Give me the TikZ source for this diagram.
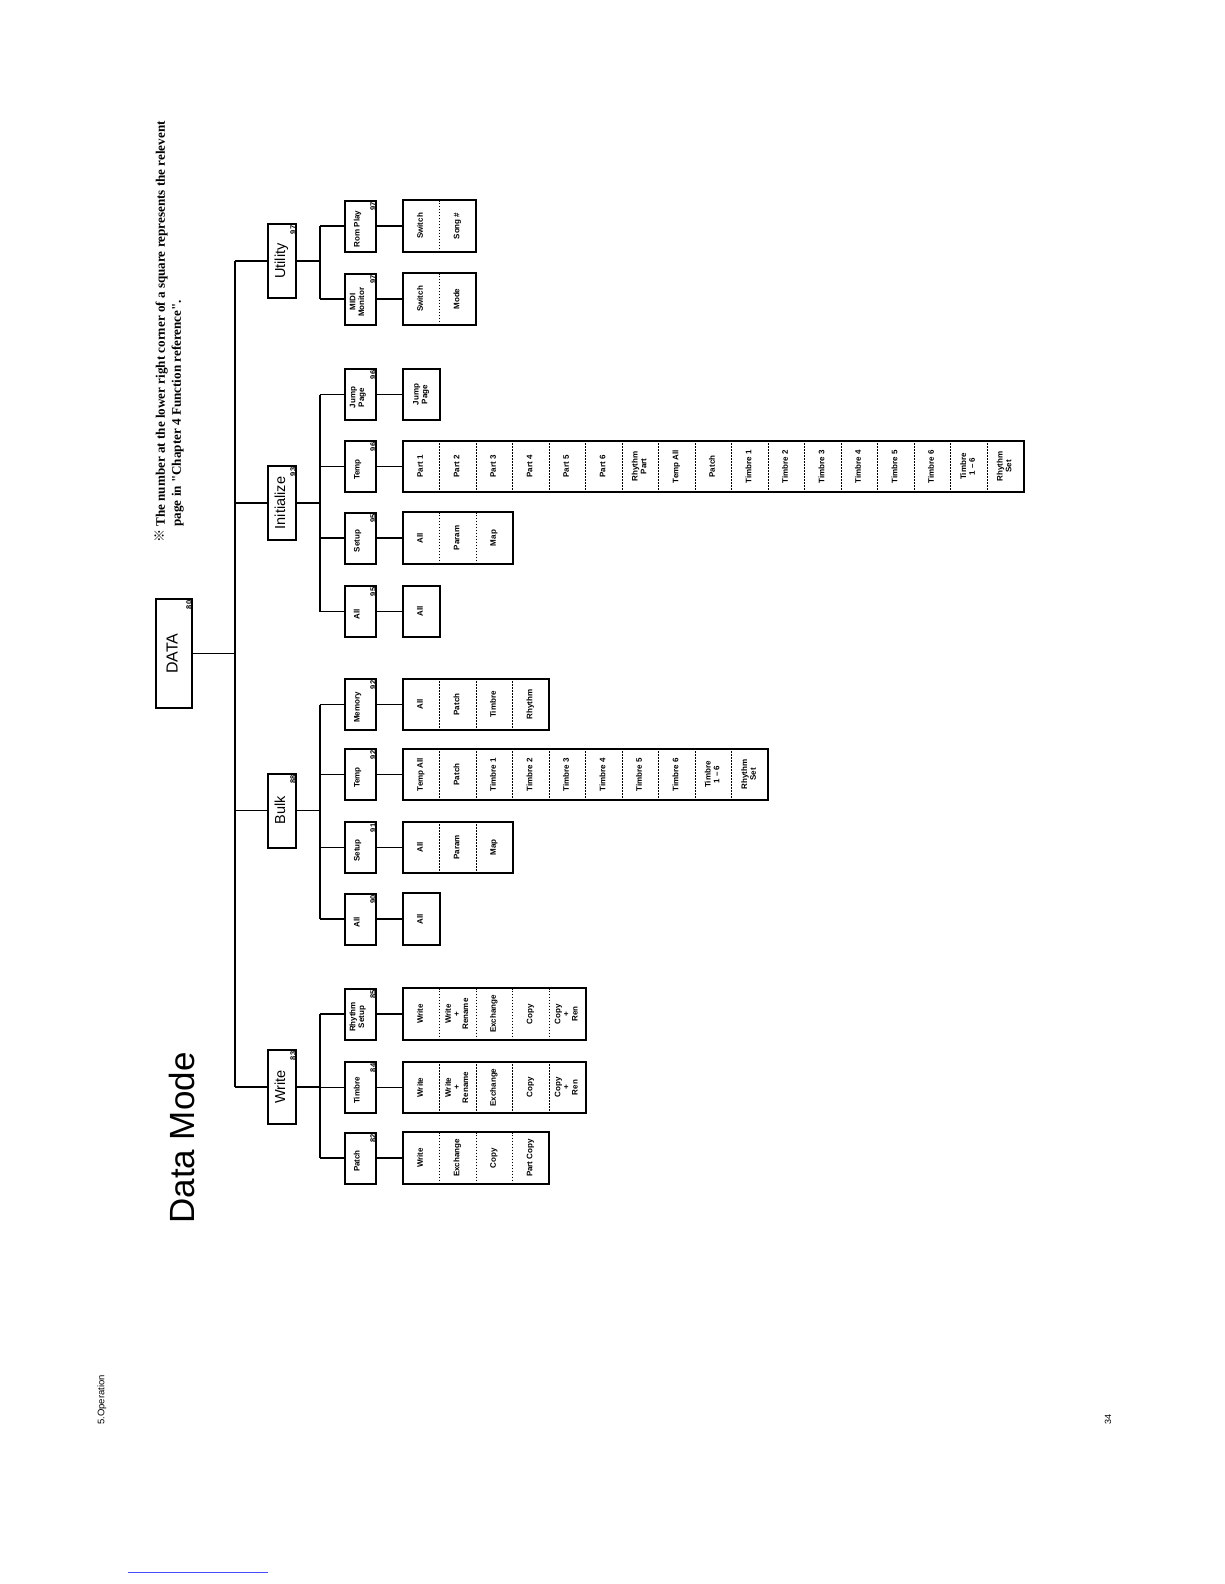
\documentclass[tikz,border=0pt]{standalone}
\usepackage{fontspec}
\setmainfont{Liberation Sans}
\newfontfamily\notefont{Liberation Serif}
\newfontfamily\cjkfont{Noto Sans CJK JP}
\usetikzlibrary{calc}
% text set bottom-to-top, as on the turned page
\newcommand{\rt}[1]{\rotatebox{90}{\begin{tabular}{@{}c@{}}#1\end{tabular}}}

\begin{document}
\begin{tikzpicture}[x=1pt,y=-1pt,
  boxline/.style={line width=2pt},
  wire/.style={line width=1.6pt},
  topbox/.style={draw,boxline,minimum width=36,minimum height=109,inner sep=0pt,font=\fontsize{16}{18}\selectfont},
  lvlone/.style={draw,boxline,minimum width=28,minimum height=74,inner sep=0pt,font=\fontsize{14.5}{16}\selectfont},
  lvltwo/.style={draw,boxline,minimum width=31,minimum height=51,inner sep=0pt},
  twolab/.style={inner sep=0pt,font=\bfseries\fontsize{8}{8.6}\selectfont},
  cell/.style={draw,line width=0.8pt,dash pattern=on 1.5pt off 1.5pt,minimum width=36.5,minimum height=51,inner sep=0pt,font=\bfseries\fontsize{8}{8.6}\selectfont},
  pgno/.style={anchor=north east,inner xsep=1pt,inner ysep=2.5pt,font=\bfseries\fontsize{7.5}{8}\selectfont}]
  \useasboundingbox (0,0) rectangle (1224,1584);
  \coordinate (trunk) at (235,0);
  \coordinate (sub) at (320,0);

  % page texts
  \node[rotate=90,anchor=north west,inner sep=0pt,align=left,font=\notefont\bfseries\fontsize{13.1}{16}\selectfont] (note) at (155,543)
    {{\cjkfont ※} The number at the lower right corner of a square represents the relevent\\
     \hspace*{1.25em}page in "Chapter 4 Function reference".};
  \node[rotate=90,font=\fontsize{35}{38}\selectfont] (title) at (182,1138) {Data Mode};
  \node[rotate=90,font=\fontsize{9.5}{10}\selectfont] (chap) at (102,1400) {5.Operation};
  \node[rotate=90,font=\fontsize{9}{10}\selectfont] (folio) at (1108,1419) {34};
  \draw[blue!70,line width=0.8pt] (128,1572) -- (268,1572);

  % root
  \node[topbox] (data) at (174,653.5) {\rt{DATA}};
  \node[pgno] (data-pg) at (data.north east) {\rotatebox{90}{80}};
  \draw[wire] (data.east) -- (data.east -| trunk);

  % first level
  \foreach \nm/\yc/\lab/\pg in {util/261/Utility/97, init/503/Initialize/93,
                                 bulk/810.5/Bulk/88, write/1087/Write/83}{
    \node[lvlone] (\nm) at (282,\yc) {\rt{\lab}};
    \node[pgno] (\nm-pg) at (\nm.north east) {\rotatebox{90}{\pg}};
    \draw[wire] (\nm.west -| trunk) -- (\nm.west);
    \draw[wire] (\nm.east) -- (\nm.east -| sub);
  }
  \draw[wire] (util.west -| trunk) -- (write.west -| trunk);

  % second level and its strips
  \foreach \nm/\yc/\lab/\pg/\n/\lst in {
      uRom/226/Rom Play/97/2/{Switch,Song \#},
      uMidi/299/MIDI\\Monitor/97/2/{Switch,Mode},
      iJump/394.5/Jump\\Page/96/1/{Jump\\Page},
      iTemp/466.5/Temp/96/17/{Part 1,Part 2,Part 3,Part 4,Part 5,Part 6,Rhythm\\Part,Temp All,Patch,Timbre 1,Timbre 2,Timbre 3,Timbre 4,Timbre 5,Timbre 6,Timbre\\1 -- 6,Rhythm\\Set},
      iSetup/538/Setup/95/3/{All,Param,Map},
      iAll/611.5/All/95/1/{All},
      bMem/704.5/Memory/92/4/{All,Patch,Timbre,Rhythm},
      bTemp/774.5/Temp/92/10/{Temp All,Patch,Timbre 1,Timbre 2,Timbre 3,Timbre 4,Timbre 5,Timbre 6,Timbre\\1 -- 6,Rhythm\\Set},
      bSetup/847.5/Setup/91/3/{All,Param,Map},
      bAll/919/All/90/1/{All},
      wRhythm/1014/Rhythm\\Setup/85/5/{Write,Write\\+\\Rename,Exchange,Copy,Copy\\+\\Ren},
      wTimbre/1087.5/Timbre/84/5/{Write,Write\\+\\Rename,Exchange,Copy,Copy\\+\\Ren},
      wPatch/1158/Patch/82/4/{Write,Exchange,Copy,Part Copy}}{
    \node[lvltwo] (\nm) at (360.5,\yc) {};
    \node[twolab] (\nm-lab) at ($(\nm.center)+(-2.5,3)$) {\rt{\lab}};
    \node[pgno] (\nm-pg) at (\nm.north east) {\rotatebox{90}{\pg}};
    \foreach \cl [count=\i] in \lst
      \node[cell] (\nm-\i) at ({403+(\i-0.5)*36.5},\yc) {\rt{\cl}};
    \draw[boxline] (\nm-1.north west) rectangle (\nm-\n.south east);
    \draw[wire] (\nm.west -| sub) -- (\nm.west);
    \draw[wire] (\nm.east) -- (\nm-1.west);
  }
  \draw[wire] (uRom.west -| sub) -- (uMidi.west -| sub);
  \draw[wire] (iJump.west -| sub) -- (iAll.west -| sub);
  \draw[wire] (bMem.west -| sub) -- (bAll.west -| sub);
  \draw[wire] (wRhythm.west -| sub) -- (wPatch.west -| sub);
\end{tikzpicture}
\end{document}
